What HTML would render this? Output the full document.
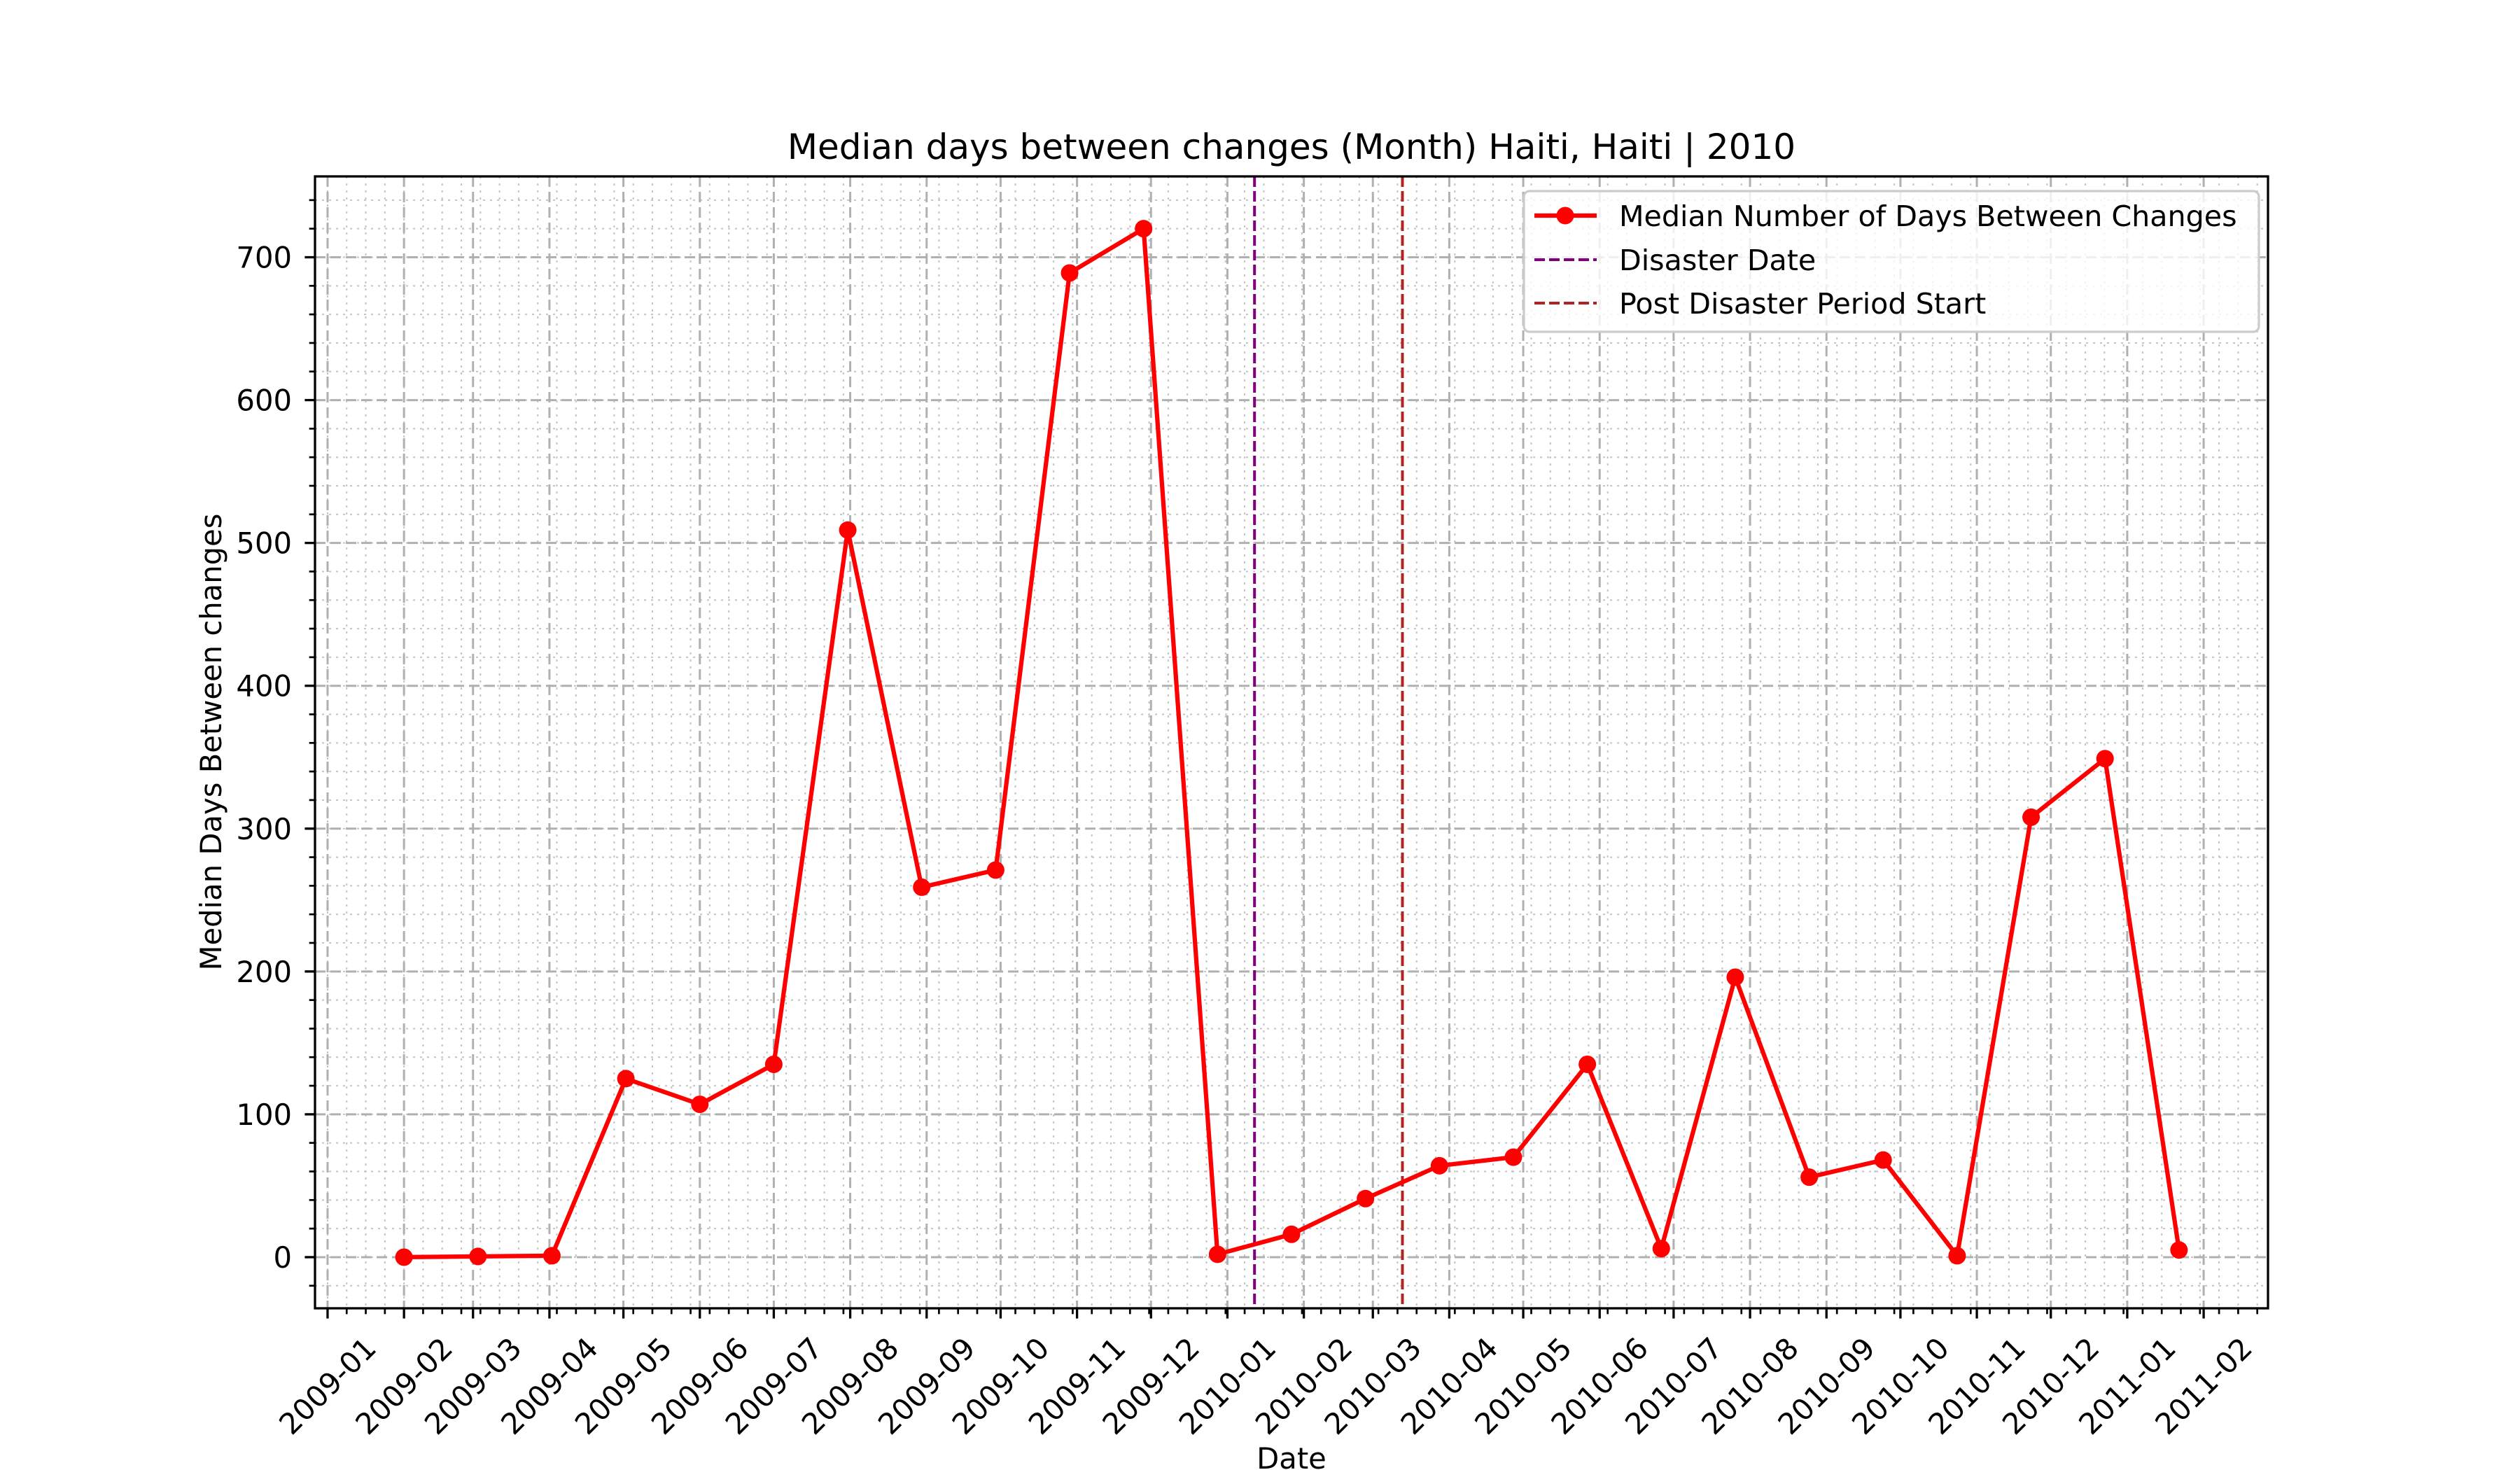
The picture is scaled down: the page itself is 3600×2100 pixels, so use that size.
<!DOCTYPE html>
<html><head><meta charset="utf-8"><style>
html,body{margin:0;padding:0;background:#fff;}
svg{display:block;font-family:"DejaVu Sans","Liberation Sans",sans-serif;}
</style></head><body>
<svg id="chart" width="3600" height="2100" viewBox="0 0 3600 2100" xmlns="http://www.w3.org/2000/svg">
<rect width="3600" height="2100" fill="#fff"/>
<g id="grid"></g>
<g id="marks"></g>
<g id="axes"></g>
<text x="1845" y="227" font-size="50" text-anchor="middle" fill="#000">Median days between changes (Month) Haiti, Haiti | 2010</text>
<text x="1845" y="2098" font-size="41.7" text-anchor="middle" fill="#000">Date</text>
<text transform="translate(316,1060) rotate(-90)" font-size="41.7" text-anchor="middle" fill="#000">Median Days Between changes</text>
<g>
<rect x="2177" y="273" width="1050" height="201" rx="8" fill="#fff" fill-opacity="0.8" stroke="#cccccc" stroke-width="3.3"/>
<line x1="2192" y1="308" x2="2281" y2="308" stroke="#ff0000" stroke-width="6.25"/>
<circle cx="2236" cy="308" r="12.5" fill="#ff0000"/>
<text x="2313" y="323" font-size="41.2">Median Number of Days Between Changes</text>
<line x1="2192" y1="371" x2="2281" y2="371" stroke="#800080" stroke-width="4" stroke-dasharray="15 6"/>
<text x="2313" y="386" font-size="41.2">Disaster Date</text>
<line x1="2192" y1="433" x2="2281" y2="433" stroke="#b22222" stroke-width="4" stroke-dasharray="15 6"/>
<text x="2313" y="448" font-size="41.2">Post Disaster Period Start</text>
</g>
</svg>
<script>
// data: day offsets from 2009-01-01 of each point (30-day steps starting 2009-02-01)
const pointDays = [31,61,91,121,151,181,211,241,271,301,331,361,391,421,451,481,511,541,571,601,631,661,691,721,751];
const values = [0,0.5,1,125,107,135,509,259,271,689,720,2,16,41,64,70,135,6,196,56,68,1,308,349,5];
const monthLabels = ["2009-01","2009-02","2009-03","2009-04","2009-05","2009-06","2009-07","2009-08","2009-09","2009-10","2009-11","2009-12","2010-01","2010-02","2010-03","2010-04","2010-05","2010-06","2010-07","2010-08","2010-09","2010-10","2010-11","2010-12","2011-01","2011-02"];
const monthDays = [0,31,59,90,120,151,181,212,243,273,304,334,365,396,424,455,485,516,546,577,608,638,669,699,730,761];
const yTicks = [0,100,200,300,400,500,600,700];
const disasterDay = 376;
const postDisasterDay = 436;

const L=450,R=3240,T=252,B=1869;
const dMin=-5.1,dMax=787.1,vMin=-35.8,vMax=756.6;
const xs=d=>L+(d-dMin)/(dMax-dMin)*(R-L);
const ys=v=>B-(v-vMin)/(vMax-vMin)*(B-T);
const NS='http://www.w3.org/2000/svg';
function mk(tag,attrs,parent){const e=document.createElementNS(NS,tag);for(const k in attrs)e.setAttribute(k,attrs[k]);parent.appendChild(e);return e;}
const grid=document.getElementById('grid'),marks=document.getElementById('marks'),axes=document.getElementById('axes');

const minorStep=31/4;
for(let d=0;d<=dMax;d+=minorStep){
  const x=xs(d);
  const g=mk('line',{x1:x,y1:T,x2:x,y2:B,stroke:'#c4c4c4','stroke-width':2,'stroke-dasharray':'3 7'},grid);
  
  
  const t=mk('line',{x1:x,y1:B,x2:x,y2:B+8.3,stroke:'#000','stroke-width':2.7},axes);
  
  
}
for(let v=-20;v<=vMax;v+=20){
  if(v<vMin)continue;
  const y=ys(v);
  const g=mk('line',{x1:L,y1:y,x2:R,y2:y,stroke:'#c4c4c4','stroke-width':2,'stroke-dasharray':'3 7'},grid);
  
  
  const t=mk('line',{x1:L-8.3,y1:y,x2:L,y2:y,stroke:'#000','stroke-width':2.7},axes);
  
  
}
monthDays.forEach((d,i)=>{
  const x=xs(d);
  const g=mk('line',{x1:x,y1:T,x2:x,y2:B,stroke:'#b0b0b0','stroke-width':3,'stroke-dasharray':'15 7'},grid);
  
  
  const t=mk('line',{x1:x,y1:B,x2:x,y2:B+14.6,stroke:'#000','stroke-width':3.3},axes);
  
  
  const lb=mk('text',{x:x,y:1980,'font-size':41.7,'text-anchor':'middle','dominant-baseline':'central',transform:`rotate(-45 ${x} 1980)`},axes);
  lb.textContent=monthLabels[i];
  
  
});
yTicks.forEach(v=>{
  const y=ys(v);
  const g=mk('line',{x1:L,y1:y,x2:R,y2:y,stroke:'#b0b0b0','stroke-width':3,'stroke-dasharray':'15 7'},grid);
  
  
  const t=mk('line',{x1:L-14.6,y1:y,x2:L,y2:y,stroke:'#000','stroke-width':3.3},axes);
  
  
  const lb=mk('text',{x:417,y:y+15,'font-size':41.7,'text-anchor':'end'},axes);
  lb.textContent=String(v);
  
  
});
const dl=mk('line',{x1:xs(disasterDay),y1:T,x2:xs(disasterDay),y2:B,stroke:'#800080','stroke-width':4,'stroke-dasharray':'15 6'},marks);


const pl=mk('line',{x1:xs(postDisasterDay),y1:T,x2:xs(postDisasterDay),y2:B,stroke:'#b22222','stroke-width':4,'stroke-dasharray':'15 6'},marks);


const pts=pointDays.map((d,i)=>xs(d).toFixed(1)+','+ys(values[i]).toFixed(1)).join(' ');
const line=mk('polyline',{points:pts,fill:'none',stroke:'#ff0000','stroke-width':6.25,'stroke-linejoin':'round'},marks);


pointDays.forEach((d,i)=>{
  const c=mk('circle',{cx:xs(d),cy:ys(values[i]),r:12.5,fill:'#ff0000'},marks);
  
  
});
const fr=mk('rect',{x:L,y:T,width:R-L,height:B-T,fill:'none',stroke:'#000','stroke-width':3.3},axes);


</script>
</body></html>
